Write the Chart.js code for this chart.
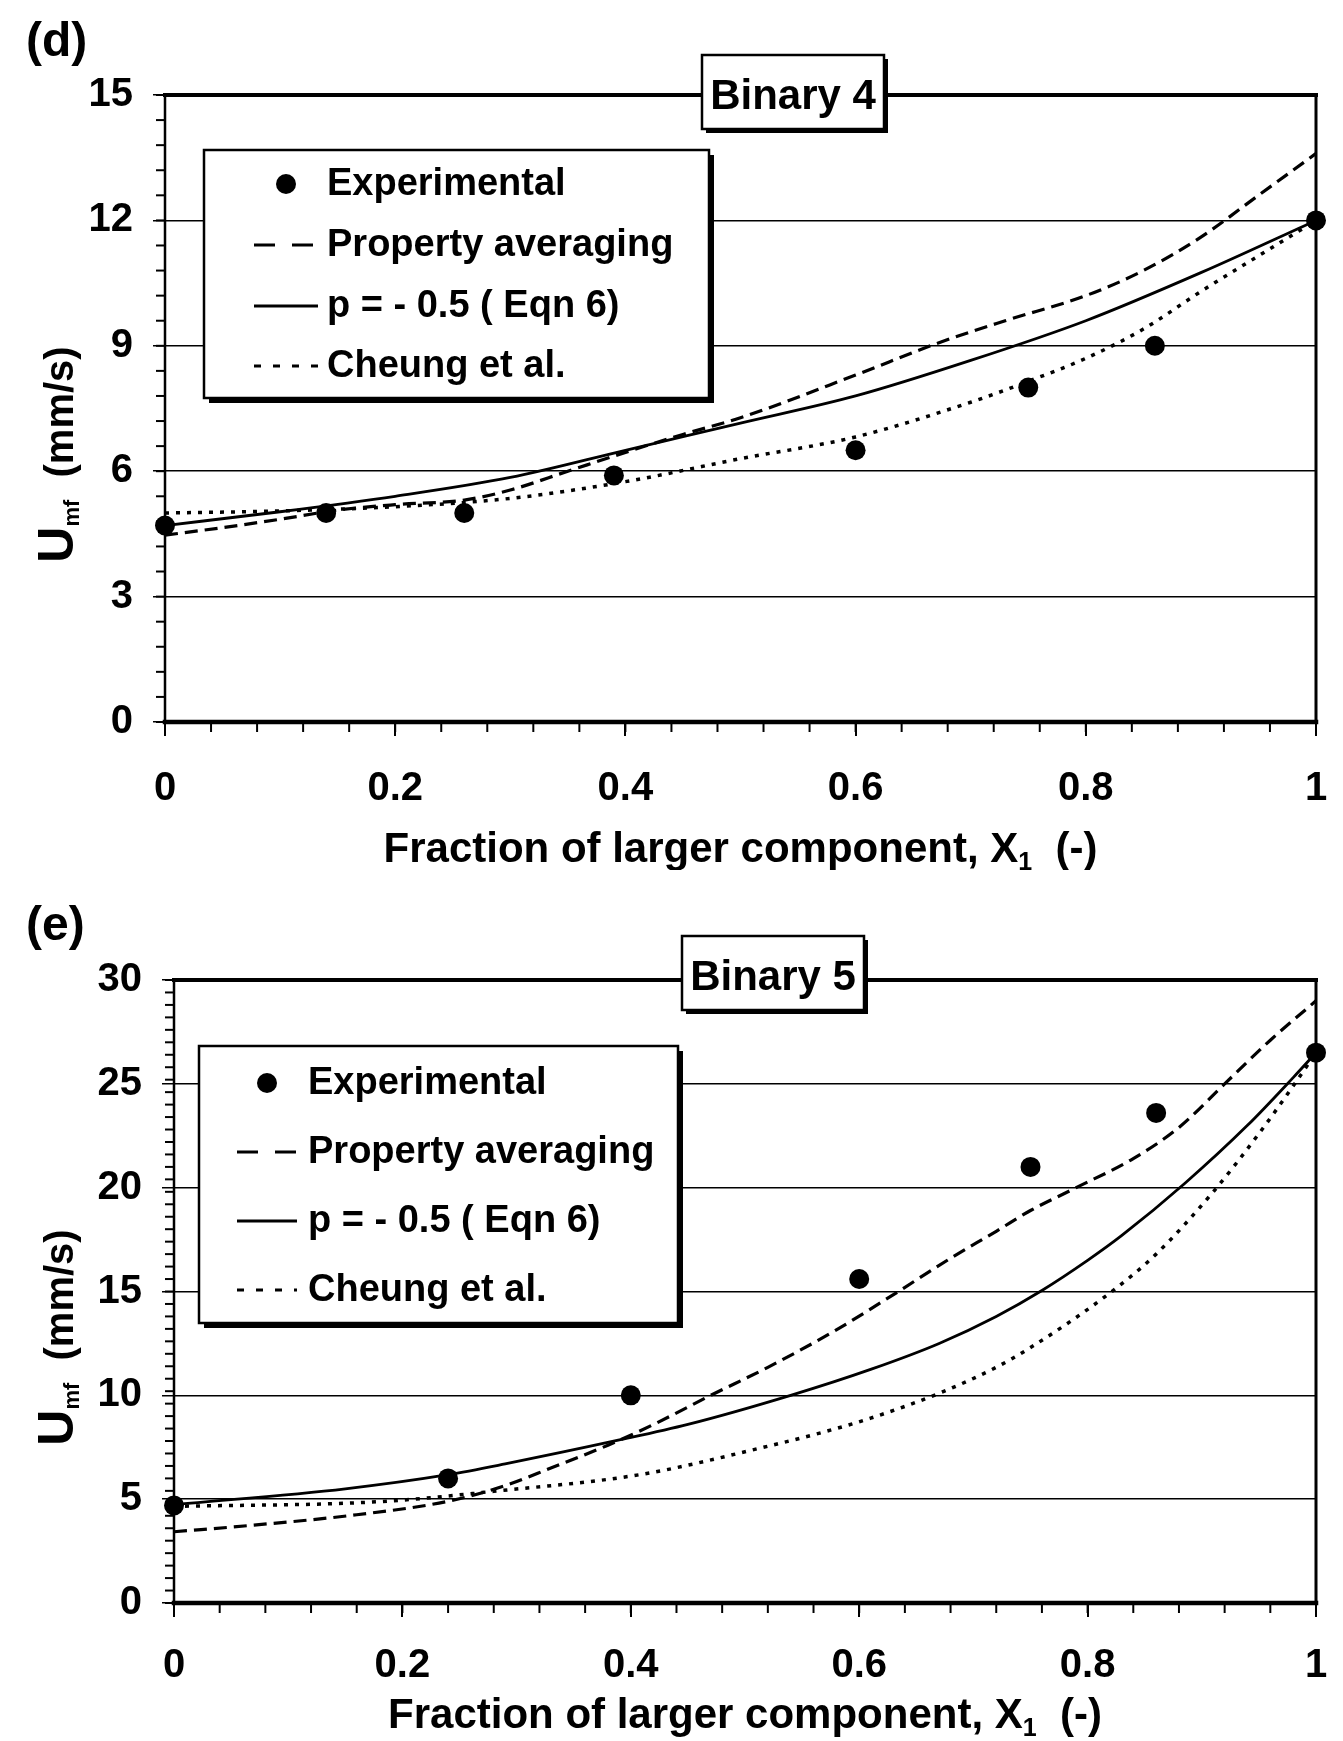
<!doctype html>
<html lang="en">
<head>
<meta charset="utf-8">
<title>Umf vs fraction of larger component – Binary 4 / Binary 5</title>
<style>
  *{margin:0;padding:0;box-sizing:border-box}
  html,body{background:#fff}
  body{width:1343px;height:1741px;overflow:hidden}
  canvas{display:block}
</style>
</head>
<body>
<canvas id="chartD" width="1343" height="870"></canvas>
<canvas id="chartE" width="1343" height="871"></canvas>

<script src="https://cdn.jsdelivr.net/npm/chart.js"></script>
<script>
// ---- values ----
const seriesLabels = ['Experimental', 'Property averaging', 'p = - 0.5 ( Eqn 6)', 'Cheung et al.'];
const xTickLabels = [0, 0.2, 0.4, 0.6, 0.8, 1];

// (d) Binary 4
const d_expX = [0, 0.14, 0.26, 0.39, 0.6, 0.75, 0.86, 1];
const d_expY = [4.7, 5.0, 5.0, 5.9, 6.5, 8.0, 9.0, 12.0];
const d_avgX = [0, 0.05, 0.1, 0.15, 0.2, 0.26, 0.3, 0.35, 0.4, 0.45, 0.5, 0.6, 0.67, 0.73, 0.8, 0.85, 0.9, 0.95, 1];
const d_avgY = [4.47, 4.65, 4.85, 5.07, 5.2, 5.31, 5.55, 6.0, 6.45, 6.88, 7.28, 8.3, 9.05, 9.6, 10.2, 10.8, 11.6, 12.6, 13.6];
const d_eqX = [0, 0.1, 0.2, 0.3, 0.4, 0.5, 0.6, 0.7, 0.8, 0.9, 1];
const d_eqY = [4.7, 5.03, 5.4, 5.85, 6.5, 7.15, 7.8, 8.65, 9.6, 10.75, 12];
const d_chX = [0, 0.1, 0.2, 0.3, 0.4, 0.5, 0.6, 0.7, 0.75, 0.8, 0.85, 0.9, 0.95, 1];
const d_chY = [5.0, 5.05, 5.15, 5.35, 5.75, 6.3, 6.82, 7.65, 8.15, 8.7, 9.4, 10.3, 11.15, 12];

// (e) Binary 5
const e_expX = [0, 0.24, 0.4, 0.6, 0.75, 0.86, 1];
const e_expY = [4.7, 6.0, 10.0, 15.6, 21.0, 23.6, 26.5];
const e_avgX = [0, 0.07, 0.16, 0.24, 0.29, 0.33, 0.38, 0.42, 0.47, 0.52, 0.58, 0.63, 0.68, 0.72, 0.75, 0.79, 0.84, 0.88, 0.92, 0.96, 1];
const e_avgY = [3.43, 3.75, 4.25, 4.9, 5.65, 6.5, 7.6, 8.6, 10.0, 11.35, 13.15, 14.85, 16.6, 17.9, 18.9, 20.0, 21.4, 22.9, 25.0, 27.1, 29.0];
const e_eqX = [0, 0.15, 0.24, 0.29, 0.39, 0.45, 0.54, 0.61, 0.67, 0.72, 0.76, 0.8, 0.83, 0.885, 0.94, 0.98, 1];
const e_eqY = [4.73, 5.5, 6.18, 6.7, 7.85, 8.6, 10.0, 11.25, 12.5, 13.8, 15.05, 16.5, 17.7, 20.2, 23.0, 25.3, 26.5];
const e_chX = [0, 0.18, 0.28, 0.41, 0.52, 0.57, 0.61, 0.67, 0.72, 0.75, 0.82, 0.86, 0.91, 0.95, 0.98, 1];
const e_chY = [4.65, 4.88, 5.38, 6.2, 7.55, 8.25, 8.9, 10.1, 11.35, 12.3, 14.95, 16.8, 19.8, 22.6, 24.9, 26.5];

const FONT = '"Liberation Sans", Arial, sans-serif';
const pts = (xs, ys) => xs.map((x, i) => ({x, y: ys[i]}));

function line(ctx, x0, y0, x1, y1, w) {
  ctx.lineWidth = w; ctx.beginPath(); ctx.moveTo(x0, y0); ctx.lineTo(x1, y1); ctx.stroke();
}
// parts: [text, px size, baseline shift]
function richWidth(ctx, parts) {
  let w = 0;
  parts.forEach(p => { ctx.font = `bold ${p[1]}px ${FONT}`; w += ctx.measureText(p[0]).width; });
  return w;
}
function richText(ctx, parts, x, y) {
  ctx.textAlign = 'left'; ctx.textBaseline = 'alphabetic';
  parts.forEach(p => {
    ctx.font = `bold ${p[1]}px ${FONT}`;
    ctx.fillText(p[0], x, y + (p[2] || 0));
    x += ctx.measureText(p[0]).width;
  });
}

const deco = {
  id: 'deco',
  beforeDatasetsDraw(c, args, o) {
    const ctx = c.ctx, a = c.chartArea, xs = c.scales.x, ys = c.scales.y;
    ctx.save();
    ctx.strokeStyle = '#000'; ctx.setLineDash([]);
    // minor ticks
    const ny = Math.round(ys.max / o.yMinor);
    for (let i = 0; i <= ny; i++) {
      const py = ys.getPixelForValue(i * o.yMinor);
      line(ctx, a.left - 9, py, a.left, py, 2);
    }
    const nx = Math.round(1 / o.xMinor);
    for (let i = 0; i <= nx; i++) {
      const px = xs.getPixelForValue(i * o.xMinor);
      line(ctx, px, a.bottom, px, a.bottom + 10, 2);
    }
    // frame
    ctx.lineCap = 'square';
    line(ctx, a.left, a.bottom, a.left, a.top, 2.5);
    line(ctx, a.right, a.top, a.right, a.bottom, 3);
    line(ctx, a.left, a.top, a.right, a.top, 4);
    line(ctx, a.left, a.bottom, a.right, a.bottom, 4.5);
    ctx.restore();
  },
  afterDraw(c, args, o) {
    const ctx = c.ctx, a = c.chartArea;
    ctx.save();
    ctx.fillStyle = '#000'; ctx.strokeStyle = '#000';

    // panel letter
    richText(ctx, [[o.panel, 48]], 26, o.panelY);

    // x title with subscript
    const xt = [['Fraction of larger component, X', 42], ['1', 25, 8], ['  (-)', 42]];
    richText(ctx, xt, (a.left + a.right) / 2 - richWidth(ctx, xt) / 2, o.xTitleY);

    // y title, rotated
    const yt = [['U', 50], ['mf', 22, 6], ['  (mm/s)', 40]];
    ctx.save();
    ctx.translate(73, (a.top + a.bottom) / 2 + 46);
    ctx.rotate(-Math.PI / 2);
    richText(ctx, yt, -richWidth(ctx, yt) / 2, 0);
    ctx.restore();

    // "Binary n" box
    const B = o.box;
    ctx.fillStyle = '#000'; ctx.fillRect(B.x + 4, B.y + 4, B.w, B.h);
    ctx.fillStyle = '#fff'; ctx.fillRect(B.x, B.y, B.w, B.h);
    ctx.lineWidth = 2.5; ctx.strokeRect(B.x, B.y, B.w, B.h);
    ctx.fillStyle = '#000';
    ctx.font = `bold 42px ${FONT}`; ctx.textAlign = 'center'; ctx.textBaseline = 'alphabetic';
    ctx.fillText(B.text, B.x + B.w / 2, B.y + 54);

    // legend box
    const L = o.legend;
    ctx.fillStyle = '#000'; ctx.fillRect(L.x + 5, L.y + 5, L.w, L.h);
    ctx.fillStyle = '#fff'; ctx.fillRect(L.x, L.y, L.w, L.h);
    ctx.lineWidth = 2.5; ctx.strokeRect(L.x, L.y, L.w, L.h);
    ctx.fillStyle = '#000';
    c.data.datasets.forEach((ds, i) => {
      const ry = L.rows[i];
      if (ds.showLine === false) {
        ctx.beginPath(); ctx.arc((L.s0 + L.s1) / 2, ry, ds.pointRadius, 0, Math.PI * 2); ctx.fill();
      } else {
        ctx.setLineDash(ds.legendDash || []); ctx.lineCap = 'butt';
        line(ctx, L.s0, ry, L.s1, ry, 3);
        ctx.setLineDash([]);
      }
      ctx.font = `bold 38px ${FONT}`; ctx.textAlign = 'left'; ctx.textBaseline = 'middle';
      ctx.fillText(ds.label, L.tx, ry + 1);
    });
    ctx.restore();
  }
};

function datasets(exp, avg, eq, ch) {
  return [
    {label: seriesLabels[0], data: exp, showLine: false, pointRadius: 10, pointBackgroundColor: '#000',
     pointBorderWidth: 0, order: 0, clip: false},
    {label: seriesLabels[1], data: avg, showLine: true, borderColor: '#000', borderWidth: 3.2,
     borderDash: [13, 7], legendDash: [21, 17], pointRadius: 0, cubicInterpolationMode: 'monotone', order: 1, clip: false},
    {label: seriesLabels[2], data: eq, showLine: true, borderColor: '#000', borderWidth: 2.8,
     pointRadius: 0, cubicInterpolationMode: 'monotone', order: 1, clip: false},
    {label: seriesLabels[3], data: ch, showLine: true, borderColor: '#000', borderWidth: 3.5,
     borderDash: [4, 7], legendDash: [7, 12], pointRadius: 0, cubicInterpolationMode: 'monotone', order: 1, clip: false}
  ];
}

function makeChart(id, dsets, yMax, yStep, lay, opts) {
  return new Chart(document.getElementById(id), {
    type: 'scatter',
    data: {datasets: dsets},
    options: {
      responsive: false, animation: false, events: [],
      layout: {padding: {top: lay.top, right: 27, bottom: 0, left: 0}},
      plugins: {legend: {display: false}, tooltip: {enabled: false}, deco: opts},
      scales: {
        x: {
          type: 'linear', min: 0, max: 1,
          afterBuildTicks: s => { s.ticks = xTickLabels.map(v => ({value: v})); },
          afterFit: s => { s.height = lay.xH; s.paddingLeft = 0; s.paddingRight = 0; },
          grid: {drawOnChartArea: false, color: '#000', lineWidth: 2, tickLength: 14},
          border: {display: false},
          ticks: {color: '#000', padding: lay.xPad, maxRotation: 0, autoSkip: false,
                  font: {family: FONT, size: 40, weight: 'bold'},
                  callback: v => String(+v.toFixed(2))}
        },
        y: {
          min: 0, max: yMax,
          afterFit: s => { s.width = lay.yW; s.paddingTop = 0; s.paddingBottom = 0; },
          grid: {color: '#000', lineWidth: 1.5, tickLength: 12},
          border: {display: false},
          ticks: {stepSize: yStep, color: '#000', padding: 20,
                  font: {family: FONT, size: 40, weight: 'bold'}}
        }
      }
    },
    plugins: [deco]
  });
}

makeChart('chartD',
  datasets(pts(d_expX, d_expY), pts(d_avgX, d_avgY), pts(d_eqX, d_eqY), pts(d_chX, d_chY)),
  15, 3, {top: 95, xH: 148, yW: 165, xPad: 29},
  {panel: '(d)', panelY: 56, xTitleY: 862, yMinor: 0.6, xMinor: 0.04,
   box: {text: 'Binary 4', x: 702, y: 55, w: 182, h: 74},
   legend: {x: 204, y: 150, w: 505, h: 248, rows: [184, 245, 306, 366], s0: 254, s1: 318, tx: 327}});

makeChart('chartE',
  datasets(pts(e_expX, e_expY), pts(e_avgX, e_avgY), pts(e_eqX, e_eqY), pts(e_chX, e_chY)),
  30, 5, {top: 110, xH: 138, yW: 174, xPad: 25},
  {panel: '(e)', panelY: 70, xTitleY: 858, yMinor: 0.6, xMinor: 0.04,
   box: {text: 'Binary 5', x: 682, y: 66, w: 182, h: 74},
   legend: {x: 199, y: 176, w: 479, h: 277, rows: [213, 282, 351, 420], s0: 237, s1: 297, tx: 308}});
</script>
</body>
</html>
